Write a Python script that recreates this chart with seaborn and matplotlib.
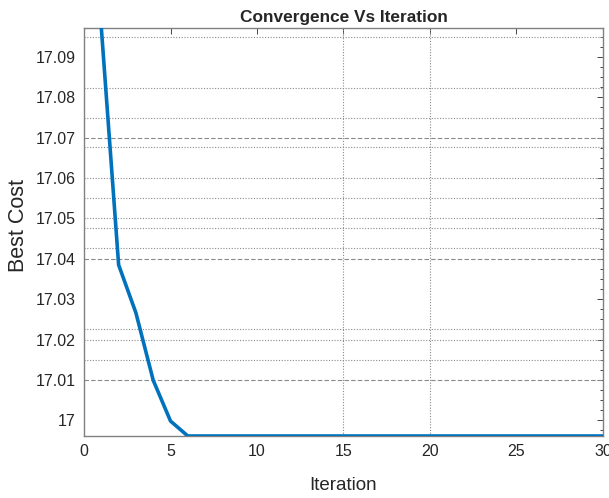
import numpy as np
import pandas as pd
import matplotlib
matplotlib.use("Agg")
import matplotlib.pyplot as plt
import seaborn as sns
from matplotlib.ticker import MultipleLocator

iterations = list(range(1, 31))
best_cost = [17.0972, 17.0385, 17.0266, 17.0099, 16.9998] + [16.9961] * 25
x_ticks = [0, 5, 10, 15, 20, 25, 30]
y_ticks = [17.0, 17.01, 17.02, 17.03, 17.04, 17.05, 17.06, 17.07, 17.08, 17.09]
y_tick_labels = ["17", "17.01", "17.02", "17.03", "17.04", "17.05", "17.06", "17.07", "17.08", "17.09"]
dashed_grid_y = [17.01, 17.04, 17.07]
dotted_grid_y = [17.015, 17.0226, 17.02, 17.0427, 17.0476, 17.05, 17.055, 17.06,
                 17.0677, 17.075, 17.0824, 17.095]
dotted_grid_x = [15, 20]

df = pd.DataFrame({"Iteration": iterations, "Best Cost": best_cost})

sns.set_theme(style="white")
plt.rcParams["font.family"] = ["Liberation Sans", "DejaVu Sans"]

fig = plt.figure(figsize=(6.09, 4.98), dpi=100)
ax = fig.add_axes([0.138, 0.1245, 0.852, 0.8193])

for y in dashed_grid_y:
    ax.axhline(y, color="#8a8a8a", lw=0.8, ls=(0, (4, 2)), zorder=1)
for y in dotted_grid_y:
    ax.axhline(y, color="#8a8a8a", lw=0.8, ls=(0, (1, 1.5)), zorder=1)
for x in dotted_grid_x:
    ax.axvline(x, color="#8a8a8a", lw=0.8, ls=(0, (1, 1.5)), zorder=1)

sns.lineplot(data=df, x="Iteration", y="Best Cost", ax=ax, color="#0072BD", lw=2.6, zorder=3)

ax.set_xlim(0, 30)
ax.set_ylim(min(best_cost), max(best_cost))
ax.set_xticks(x_ticks)
ax.set_yticks(y_ticks)
ax.set_yticklabels(y_tick_labels)
ax.yaxis.set_minor_locator(MultipleLocator(0.0025))
ax.tick_params(axis="both", which="both", direction="in", top=True, right=True,
               colors="#262626", labelsize=11.5, labelcolor="#262626")
ax.tick_params(axis="both", which="major", length=4, width=0.6, pad=6)
ax.tick_params(axis="y", which="minor", length=2, width=0.6)
for s in ax.spines.values():
    s.set_color("#808080")
    s.set_linewidth(1.0)

ax.set_title("Convergence Vs Iteration", fontsize=12.4, fontweight="bold", pad=4)
ax.set_xlabel("Iteration", fontsize=13.5, labelpad=13)
ax.set_ylabel("Best Cost", fontsize=15.5, labelpad=7)
ax.yaxis.set_label_coords(-0.106, 0.517)

fig.savefig("out.png", dpi=100)
